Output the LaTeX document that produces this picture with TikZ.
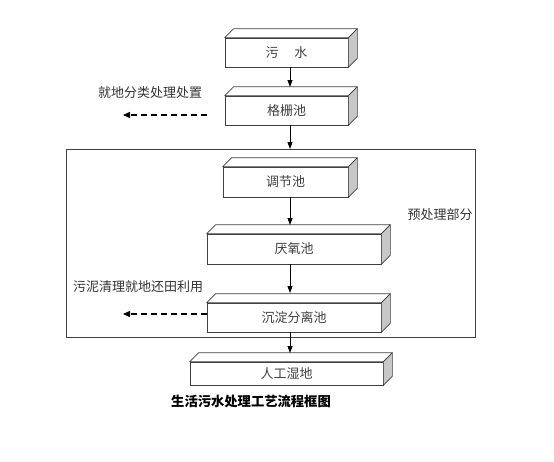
\documentclass[tikz,border=0pt]{standalone}
\usepackage{fontspec}
\newfontfamily\cjk{Noto Sans CJK SC}
\usetikzlibrary{arrows.meta}
\tikzset{
  boxline/.style={draw=black!75, line width=0.7pt},
  tankbox/.style={boxline, fill=white, inner sep=0pt, font=\cjk\fontsize{13}{15}\selectfont, text=black!75},
  flow/.style={line width=0.8pt, -{Triangle[length=7pt,width=5pt]}},
  dashflow/.style={line width=1.4pt, dash pattern=on 6pt off 4pt, -{Triangle[length=7pt,width=6pt]}},
  lbl/.style={font=\cjk\fontsize{13}{15}\selectfont, text=black!80, inner sep=0pt},
}
\newcommand{\depthfaces}[1]{%
  \draw[boxline, fill=white, line join=round] (#1.north west) -- ++(9,-9) -- ([shift={(9pt,9pt)}]#1.north east) -- (#1.north east) -- cycle;
  \draw[boxline, fill=black!22, line join=round] (#1.north east) -- ([shift={(9pt,9pt)}]#1.north east) -- ([shift={(9pt,9pt)}]#1.south east) -- (#1.south east) -- cycle;
}
\begin{document}
\begin{tikzpicture}[x=1pt, y=-1pt]
\useasboundingbox (0,0) rectangle (554,461);
% pretreatment frame
\node[draw=black!75, line width=0.7pt, minimum width=409pt, minimum height=188pt, inner sep=0pt] (pre) at (270.5,243) {};
\node[lbl] (prelbl) at (440,215) {预处理部分};
% tanks
\node[tankbox, minimum width=123pt, minimum height=29pt] (b1) at (286.5,52.5) {污\hspace{1.2em}水};
\depthfaces{b1}
\node[tankbox, minimum width=123pt, minimum height=29pt] (b2) at (286.5,110.5) {格栅池};
\depthfaces{b2}
\node[tankbox, minimum width=125pt, minimum height=30pt] (b3) at (285.5,182) {调节池};
\depthfaces{b3}
\node[tankbox, minimum width=174pt, minimum height=30pt] (b4) at (294,249) {厌氧池};
\depthfaces{b4}
\node[tankbox, minimum width=174pt, minimum height=29pt] (b5) at (294,317.5) {沉淀分离池};
\depthfaces{b5}
\node[tankbox, minimum width=193pt, minimum height=23pt] (b6) at (286.5,373.5) {人工湿地};
\depthfaces{b6}
% arrow coordinates
\coordinate (a1s) at (290,67);
\coordinate (a1e) at (290,87);
\coordinate (a2s) at (290,125);
\coordinate (a2e) at (290,149);
\coordinate (a3s) at (290,197);
\coordinate (a3e) at (290,225);
\coordinate (a4s) at (290,264);
\coordinate (a4e) at (290,293);
\coordinate (a5s) at (290,332);
\coordinate (a5e) at (290,353);
\draw[flow] (a1s) -- (a1e);
\draw[flow] (a2s) -- (a2e);
\draw[flow] (a3s) -- (a3e);
\draw[flow] (a4s) -- (a4e);
\draw[flow] (a5s) -- (a5e);
% side outputs
\node[lbl, anchor=west] (l1) at (98,93) {就地分类处理处置};
\coordinate (d1s) at (207,115);
\coordinate (d1e) at (123,115);
\draw[dashflow] (d1s) -- (d1e);
\node[lbl, anchor=west] (l2) at (73,287) {污泥清理就地还田利用};
\coordinate (d2e) at (123,314);
\draw[dashflow] (b5.west |- d2e) -- (d2e);
% caption
\node[font=\cjk\bfseries\fontsize{13.3}{15}\selectfont, inner sep=0pt] (cap) at (251,401) {生活污水处理工艺流程框图};
\end{tikzpicture}
\end{document}
